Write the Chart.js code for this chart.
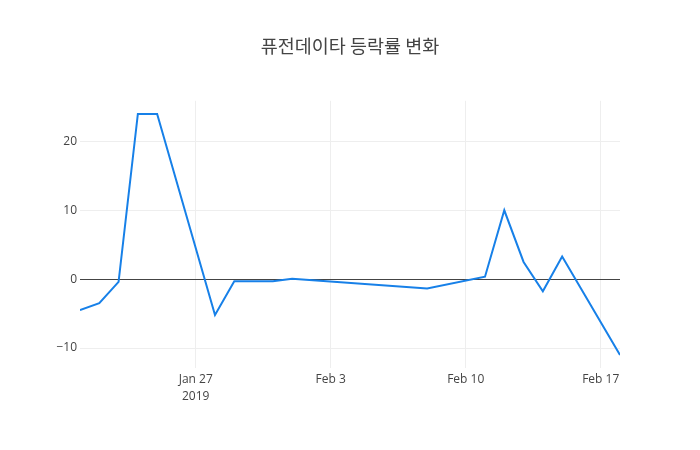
<!DOCTYPE html>
<html>
<head>
<meta charset="utf-8">
<script src="https://cdn.jsdelivr.net/npm/chart.js@4.4.0/dist/chart.umd.min.js"></script>
<style>
  html, body { margin: 0; padding: 0; background: #fff; }
  #c { display: block; }
</style>
</head>
<body>
<canvas id="c" width="700" height="450"></canvas>
<script>
const chartTitle = '퓨전데이타 등락률 변화';
const dates = ['2019-01-21','2019-01-22','2019-01-23','2019-01-24','2019-01-25',
               '2019-01-28','2019-01-29','2019-01-30','2019-01-31','2019-02-01',
               '2019-02-08','2019-02-11','2019-02-12','2019-02-13','2019-02-14',
               '2019-02-15','2019-02-18'];
const changeRates = [-4.5, -3.5, -0.4, 24.0, 24.0,
                     -5.2, -0.3, -0.3, -0.3, 0.05,
                     -1.35, 0.35, 10.0, 2.5, -1.75,
                     3.3, -11.0];
const xTickDates = ['2019-01-27','2019-02-03','2019-02-10','2019-02-17'];
const xTickLabels = [['Jan 27','2019'], 'Feb 3', 'Feb 10', 'Feb 17'];
const yTicks = [-10, 0, 10, 20];

const DAY = 86400000;
const base = Date.UTC(2019, 0, 21);
const toDay = s => { const p = s.split('-').map(Number); return (Date.UTC(p[0], p[1]-1, p[2]) - base) / DAY; };
const points = dates.map((d, i) => ({ x: toDay(d), y: changeRates[i] }));
const xTickVals = xTickDates.map(toDay);

const font = { family: '"Open Sans", "Noto Sans", sans-serif', size: 12, lineHeight: 1.4 };
const titleFont = { family: '"Noto Sans CJK KR", "Open Sans", sans-serif', size: 17, weight: 'normal', lineHeight: 1.2 };

const centeredTitle = {
  id: 'centeredTitle',
  afterDraw(chart) {
    const ctx = chart.ctx;
    ctx.save();
    ctx.font = 'normal 18.5px ' + titleFont.family;
    ctx.fillStyle = '#444';
    ctx.textAlign = 'center';
    ctx.textBaseline = 'middle';
    ctx.fillText(chartTitle, chart.width / 2, 46);
    ctx.restore();
  }
};

new Chart(document.getElementById('c'), {
  type: 'line',
  data: {
    datasets: [{
      data: points,
      borderColor: 'rgb(23,128,232)',
      borderWidth: 2,
      pointRadius: 0,
      tension: 0,
      fill: false
    }]
  },
  plugins: [centeredTitle],
  options: {
    responsive: false,
    animation: false,
    layout: { padding: { left: 0, right: 80, top: 0, bottom: 0 } },
    plugins: {
      legend: { display: false },
      tooltip: { enabled: false },
      title: {
        display: true,
        text: chartTitle,
        color: 'rgba(0,0,0,0)',
        font: titleFont,
        padding: { top: 34, bottom: 46.4 }
      }
    },
    scales: {
      x: {
        type: 'linear',
        min: 0,
        max: 28,
        afterBuildTicks: s => { s.ticks = xTickVals.map(v => ({ value: v })); },
        afterFit: s => { s.height = 82; },
        ticks: {
          color: '#444',
          font: font,
          padding: 3,
          maxRotation: 0,
          autoSkip: false,
          callback: (v) => { const i = xTickVals.indexOf(v); return i >= 0 ? xTickLabels[i] : ''; }
        },
        grid: { color: '#eee', drawTicks: false, lineWidth: 1 },
        border: { display: false }
      },
      y: {
        type: 'linear',
        min: -12.9,
        max: 25.9,
        afterBuildTicks: s => { s.ticks = yTicks.map(v => ({ value: v })); },
        afterFit: s => { s.width = 80; },
        ticks: {
          color: '#444',
          font: font,
          padding: 3,
          callback: v => (v < 0 ? '\u2212' + Math.abs(v) : String(v))
        },
        grid: {
          drawTicks: false,
          color: c => (c.tick && c.tick.value === 0 ? '#444' : '#eee'),
          lineWidth: 1
        },
        border: { display: false }
      }
    }
  }
});
</script>
</body>
</html>
